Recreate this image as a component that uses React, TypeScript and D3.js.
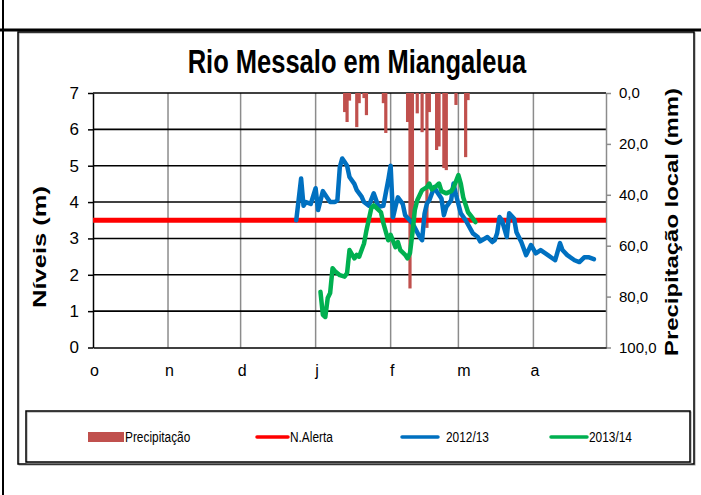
import React, { useEffect, useRef } from "react";
import * as d3 from "d3";

// month axis (season Oct -> Apr)
const monthLabels = ["o", "n", "d", "j", "f", "m", "a"];
const monthStarts = ["10-01", "11-01", "12-01", "01-01", "02-01", "03-01", "04-01"];
const levelTicks = [0, 1, 2, 3, 4, 5, 6, 7];
const precipTicks = [0, 20, 40, 60, 80, 100];
const alertLevel = 3.5;

const precipDates = ["01-13", "01-14", "01-15", "01-18", "01-19", "01-21", "01-22", "01-29", "01-30", "02-08", "02-09", "02-10",
  "02-12", "02-14", "02-16", "02-17", "02-20", "02-21", "02-23", "02-24", "02-28", "03-04", "03-05"];
const precipValues = [7.5, 11.4, 3, 13.4, 4, 2, 8.7, 4, 15.7, 11.4, 76.8, 50, 8, 15.4, 53, 7.5, 22.4, 21, 29.5, 30.3, 4.7, 25.2, 2.8];

const dates1213 = ["12-24", "12-26", "12-27", "12-28", "12-30", "01-01", "01-02", "01-04", "01-06", "01-07", "01-09", "01-10",
  "01-11", "01-12", "01-13", "01-14", "01-15", "01-17", "01-18", "01-20", "01-21", "01-23", "01-25", "01-27", "01-29", "01-31",
  "02-01", "02-02", "02-03", "02-04", "02-06", "02-07", "02-10", "02-13", "02-14", "02-15", "02-16", "02-17", "02-19", "02-20",
  "02-22", "02-23", "02-24", "02-26", "02-27", "02-28", "03-02", "03-04", "03-07", "03-09", "03-10", "03-13", "03-15", "03-16",
  "03-17", "03-18", "03-19", "03-21", "03-22", "03-24", "03-25", "03-27", "03-29", "03-31", "04-02", "04-04", "04-07", "04-10",
  "04-12", "04-13", "04-15", "04-18", "04-20", "04-22", "04-24", "04-26"];
const levels1213 = [3.5, 4.65, 3.9, 4.0, 3.95, 4.38, 3.78, 4.3, 4.1, 4.0, 4.0, 4.05,
  4.96, 5.2, 5.1, 5.0, 4.69, 4.5, 4.33, 4.15, 4.0, 3.9, 4.24, 3.87, 3.9, 4.6,
  5.0, 3.58, 3.87, 4.13, 3.95, 3.64, 3.42, 3.04, 2.95, 3.68, 3.96, 4.05, 4.41, 4.3,
  4.1, 3.64, 3.87, 4.05, 4.51, 4.2, 3.69, 3.5, 3.14, 3.04, 2.92, 3.04, 2.9, 2.95,
  3.14, 3.59, 3.5, 3.04, 3.69, 3.55, 3.17, 2.9, 2.54, 2.82, 2.59, 2.68, 2.54, 2.4,
  2.87, 2.68, 2.54, 2.4, 2.35, 2.48, 2.48, 2.43];

const dates1314 = ["01-03", "01-04", "01-05", "01-06", "01-07", "01-08", "01-09", "01-11", "01-13", "01-14", "01-15", "01-17",
  "01-18", "01-19", "01-21", "01-22", "01-24", "01-25", "01-26", "01-28", "01-29", "01-31", "02-01", "02-03", "02-04", "02-05",
  "02-07", "02-08", "02-09", "02-10", "02-11", "02-12", "02-14", "02-16", "02-17", "02-18", "02-20", "02-21", "02-22", "02-24",
  "02-26", "02-27", "03-01", "03-02", "03-03", "03-05", "03-07", "03-08"];
const levels1314 = [1.53, 0.9, 0.84, 1.36, 1.5, 2.18, 2.1, 1.99, 1.95, 2.05, 2.68, 2.45,
  2.55, 2.5, 2.86, 3.22, 3.83, 3.91, 3.85, 3.72, 3.42, 2.95, 3.1, 2.76, 2.9, 2.68,
  2.55, 2.45, 2.6, 3.14, 3.78, 4.05, 4.33, 4.41, 4.51, 4.35, 4.45, 4.51, 4.3, 4.24,
  4.3, 4.4, 4.74, 4.51, 4.13, 3.72, 3.55, 3.45];

const toDate = (md: string) => {
  const [m, d] = md.split("-").map(Number);
  return new Date(m >= 10 ? 2000 : 2001, m - 1, d);
};

const FONT = "Arial, 'Liberation Sans', sans-serif";

function Chart() {
  const ref = useRef<SVGSVGElement>(null);

  useEffect(() => {
    const svg = d3.select(ref.current);
    svg.selectAll("*").remove();

    const left = 93, right = 606, top = 93, bottom = 347.5;
    const x = d3.scaleTime().domain([new Date(2000, 9, 1), new Date(2001, 4, 1)]).range([left, right]);
    const y = d3.scaleLinear().domain([0, 7]).range([bottom, top]);
    const y2 = d3.scaleLinear().domain([0, 100]).range([top, bottom]);

    // frame lines
    svg.append("line").attr("x1", 3).attr("x2", 3).attr("y1", 0).attr("y2", 495).attr("stroke", "#000").attr("stroke-width", 2);
    svg.append("line").attr("x1", 0).attr("x2", 701).attr("y1", 30).attr("y2", 30).attr("stroke", "#000").attr("stroke-width", 3);
    svg.append("rect").attr("x", 19).attr("y", 33).attr("width", 676).attr("height", 432).attr("fill", "none").attr("stroke", "#999").attr("stroke-width", 1);
    svg.append("rect").attr("x", 18).attr("y", 32).attr("width", 676).attr("height", 432).attr("fill", "none").attr("stroke", "#000").attr("stroke-width", 1.5);

    // title
    svg.append("text").attr("transform", "translate(357,73) scale(1,1.3)")
      .attr("text-anchor", "middle").style("font-family", FONT).style("font-weight", "bold").style("font-size", "25.5px")
      .text("Rio Messalo em Miangaleua");

    // vertical month grid
    svg.append("g").selectAll("line").data(monthStarts.slice(1)).enter().append("line")
      .attr("x1", d => x(toDate(d))).attr("x2", d => x(toDate(d)))
      .attr("y1", top).attr("y2", bottom).attr("stroke", "#8c8c8c").attr("stroke-width", 1.5);

    // horizontal grid
    svg.append("g").selectAll("line").data(levelTicks.slice(1)).enter().append("line")
      .attr("x1", left).attr("x2", right).attr("y1", d => y(d)).attr("y2", d => y(d))
      .attr("stroke", "#000").attr("stroke-width", 1.6);

    // left axis
    const ax = svg.append("g").attr("transform", `translate(${left},0)`)
      .call(d3.axisLeft(y).tickValues(levelTicks).tickFormat(d3.format("d")).tickSize(5).tickSizeOuter(0).tickPadding(9));
    ax.selectAll("path,line").attr("stroke", "#000").attr("stroke-width", 1.5);
    ax.selectAll("text").style("font-family", FONT).style("font-size", "17px").attr("fill", "#000");

    // right axis
    const ax2 = svg.append("g").attr("transform", `translate(${right},0)`)
      .call(d3.axisRight(y2).tickValues(precipTicks).tickSize(5).tickSizeOuter(0).tickPadding(8)
        .tickFormat(d => d3.format(".1f")(d as number).replace(".", ",")));
    ax2.selectAll("path,line").attr("stroke", "#8c8c8c").attr("stroke-width", 1.5);
    ax2.selectAll("text").style("font-family", FONT).style("font-size", "15px").attr("fill", "#000");

    // bottom axis
    const ax3 = svg.append("g").attr("transform", `translate(0,${bottom})`)
      .call(d3.axisBottom(x).tickValues(monthStarts.map(toDate)).tickSize(0).tickPadding(17)
        .tickFormat((_d, i) => monthLabels[i]));
    ax3.select("path").attr("stroke", "#000").attr("stroke-width", 1.6);
    ax3.selectAll("text").attr("dx", (_d, i) => (i === 5 ? 5 : 1))
      .style("font-family", FONT).style("font-size", "16px").attr("fill", "#000");

    // precipitation bars (secondary axis, hanging from top)
    svg.append("g").selectAll("rect").data(precipDates).enter().append("rect")
      .attr("x", d => x(toDate(d)) - 1.6).attr("width", 3.2)
      .attr("y", y2(0)).attr("height", (_d, i) => y2(precipValues[i]) - y2(0))
      .attr("fill", "#c0504d");

    // alert level
    svg.append("line").attr("x1", left).attr("x2", right).attr("y1", y(alertLevel)).attr("y2", y(alertLevel))
      .attr("stroke", "#ff0000").attr("stroke-width", 5);

    const line = d3.line<[Date, number]>().x(d => x(d[0])).y(d => y(d[1]));
    const series = [
      { dates: dates1213, vals: levels1213, color: "#0070c0" },
      { dates: dates1314, vals: levels1314, color: "#00b050" },
    ];
    series.forEach(s => {
      svg.append("path")
        .datum(s.dates.map((d, i) => [toDate(d), s.vals[i]] as [Date, number]))
        .attr("d", line).attr("fill", "none").attr("stroke", s.color)
        .attr("stroke-width", 4.5).attr("stroke-linejoin", "round").attr("stroke-linecap", "round");
    });

    // axis titles
    svg.append("text").attr("transform", "translate(46,247) rotate(-90)").attr("text-anchor", "middle")
      .attr("textLength", 122).attr("lengthAdjust", "spacingAndGlyphs")
      .style("font-family", FONT).style("font-weight", "bold").style("font-size", "18px").text("Níveis (m)");
    svg.append("text").attr("transform", "translate(678,222) rotate(-90)").attr("text-anchor", "middle")
      .attr("textLength", 268).attr("lengthAdjust", "spacingAndGlyphs")
      .style("font-family", FONT).style("font-weight", "bold").style("font-size", "18px").text("Precipitação local (mm)");

    // legend
    svg.append("rect").attr("x", 27).attr("y", 412).attr("width", 664).attr("height", 51).attr("fill", "none").attr("stroke", "#999").attr("stroke-width", 1);
    svg.append("rect").attr("x", 26).attr("y", 411).attr("width", 664).attr("height", 51).attr("fill", "none").attr("stroke", "#000").attr("stroke-width", 1.5);
    const ly = 437;
    svg.append("rect").attr("x", 88).attr("y", ly - 5).attr("width", 36).attr("height", 10).attr("fill", "#c0504d");
    const legendLines = [
      { x1: 257, x2: 288, color: "#ff0000", label: "N.Alerta", tx: 290 },
      { x1: 402, x2: 438, color: "#0070c0", label: "2012/13", tx: 446 },
      { x1: 551, x2: 587, color: "#00b050", label: "2013/14", tx: 589 },
    ];
    legendLines.forEach(l => {
      svg.append("line").attr("x1", l.x1).attr("x2", l.x2).attr("y1", ly).attr("y2", ly)
        .attr("stroke", l.color).attr("stroke-width", 3.5).attr("stroke-linecap", "round");
    });
    const labels = [{ tx: 125, label: "Precipitação" }, ...legendLines];
    labels.forEach(l => {
      svg.append("text").attr("transform", `translate(${l.tx},${ly + 5}) scale(0.95,1.2)`)
        .style("font-family", FONT).style("font-size", "12.5px").text(l.label);
    });
  }, []);

  return <svg ref={ref} width={701} height={495} style={{ position: "absolute", left: 0, top: 0, background: "#fff" }} />;
}

export default function App() {
  return <Chart />;
}
